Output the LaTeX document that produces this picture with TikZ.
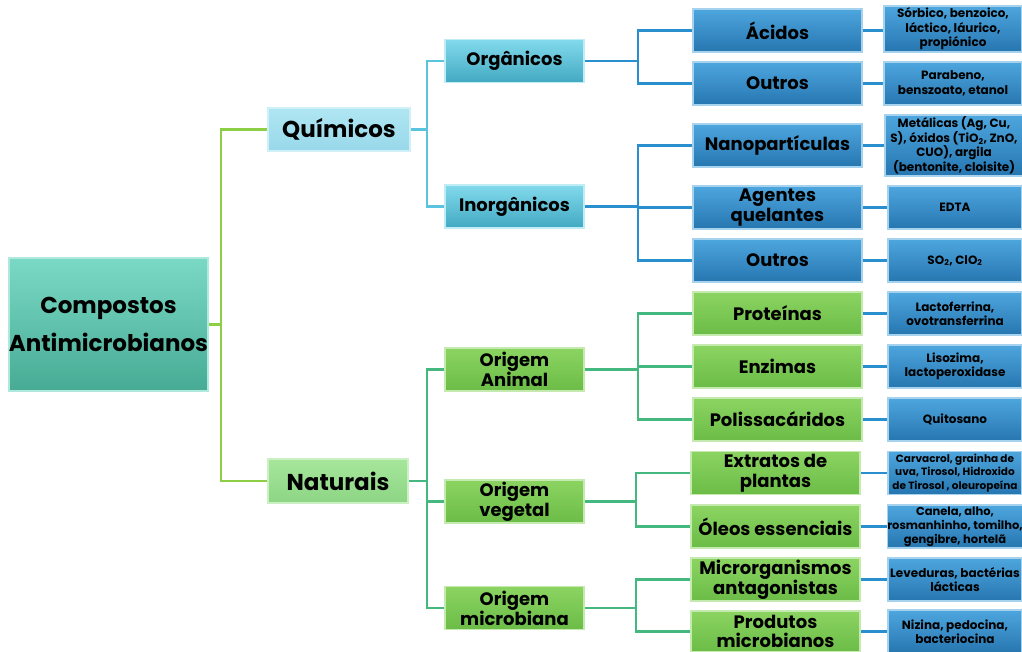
\documentclass[tikz,border=0pt]{standalone}
\usepackage{fontspec}
\setmainfont{Poppins}
\usepackage{tikz}

\definecolor{raizA}{HTML}{7AD9C5}
\definecolor{raizB}{HTML}{47AB94}
\definecolor{quimA}{HTML}{B0E6F2}
\definecolor{quimB}{HTML}{98D8EA}
\definecolor{natA}{HTML}{A6E69C}
\definecolor{natB}{HTML}{8DD584}
\definecolor{azulA}{HTML}{82DAEC}
\definecolor{azulB}{HTML}{42A9C2}
\definecolor{verdeA}{HTML}{8CD462}
\definecolor{verdeB}{HTML}{6BBC47}
\definecolor{escA}{HTML}{4EA6DE}
\definecolor{escB}{HTML}{2676B0}
\definecolor{linhaR}{HTML}{8CCF45}
\definecolor{linhaQ}{HTML}{5AC4DE}
\definecolor{linhaN}{HTML}{45B880}
\definecolor{linhaA}{HTML}{2A8FCF}

\begin{document}
\begin{tikzpicture}[x=1pt, y=-1pt,
    caixa/.style={rectangle, inner sep=0pt, align=center, font=\bfseries, line width=1.2pt},
    raiz/.style={caixa, top color=raizA, bottom color=raizB, draw=raizA!60!white,
        minimum width=197pt, minimum height=133pt, font=\bfseries\fontsize{23}{38}\selectfont},
    quim/.style={caixa, top color=quimA, bottom color=quimB, draw=quimA!60!white,
        minimum width=142pt, minimum height=43pt, font=\bfseries\fontsize{23}{24}\selectfont},
    nat/.style={caixa, top color=natA, bottom color=natB, draw=natA!60!white,
        minimum width=140pt, minimum height=44pt, font=\bfseries\fontsize{23}{24}\selectfont},
    azul/.style={caixa, top color=azulA, bottom color=azulB, draw=azulA!50!white,
        minimum width=139pt, minimum height=43pt, font=\bfseries\fontsize{18}{20}\selectfont},
    verde/.style={caixa, top color=verdeA, bottom color=verdeB, draw=verdeA!50!white,
        minimum width=139pt, minimum height=43pt, font=\bfseries\fontsize{18}{20}\selectfont},
    esc/.style={caixa, top color=escA, bottom color=escB, draw=escA!50!white,
        minimum width=169pt, minimum height=43pt, font=\bfseries\fontsize{18}{20}\selectfont},
    escv/.style={caixa, top color=verdeA, bottom color=verdeB, draw=verdeA!50!white,
        minimum width=169pt, minimum height=43pt, font=\bfseries\fontsize{18}{20}\selectfont},
    ex/.style={caixa, top color=escA, bottom color=escB, draw=escA!50!white,
        minimum width=138pt, minimum height=43pt, font=\bfseries\fontsize{12}{14.5}\selectfont},
    liga/.style={line width=2.5pt}]

        \clip (0,0) rectangle (1022,652);

        % raiz e primeiro nivel
        \node[raiz] (r) at (108.5,324.5) {Compostos\\Antimicrobianos};
        \node[quim] (q) at (339,129.5) {Químicos};
        \node[nat] (n) at (338,481) {Naturais};

        % segundo nivel
        \node[azul] (org) at (514.5,61) {Orgânicos};
        \node[azul] (inorg) at (514.5,206.5) {Inorgânicos};
        \node[verde] (anim) at (514.5,369.5) {Origem\\Animal};
        \node[verde] (veg) at (514.5,501.5) {Origem\\vegetal};
        \node[verde] (mic) at (514.5,608) {Origem\\microbiana};

        % terceiro nivel
        \node[esc] (ac) at (777.5,30.5) {Ácidos};
        \node[esc] (out1) at (777.5,83.5) {Outros};
        \node[esc] (nano) at (777.5,145.5) {Nanopartículas};
        \node[esc] (quel) at (777.5,207.5) {Agentes\\quelantes};
        \node[esc] (out2) at (777.5,260.5) {Outros};
        \node[escv] (prot) at (777.5,313.5) {Proteínas};
        \node[escv] (enz) at (777.5,366.5) {Enzimas};
        \node[escv] (pol) at (777.5,419.5) {Polissacáridos};
        \node[escv] (extr) at (775.5,473) {Extratos de\\plantas};
        \node[escv] (oleo) at (775.5,526.5) {Óleos essenciais};
        \node[escv] (antag) at (775.5,579.5) {Microrganismos\\antagonistas};
        \node[escv, minimum height=41pt, font=\bfseries\fontsize{18}{18.5}\selectfont] (prod) at (775.5,631.5) {Produtos\\microbianos};

        % exemplos
        \node[ex, minimum height=46pt] (e1) at (953,29) {Sórbico, benzoico,\\láctico, láurico,\\propiónico};
        \node[ex] (e2) at (953,83.5) {Parabeno,\\benszoato, etanol};
        \node[ex, minimum height=61pt] (e3) at (954,145.5) {Metálicas (Ag, Cu,\\S), óxidos (TiO\textsubscript{2}, ZnO,\\CUO), argila\\(bentonite, cloisite)};
        \node[ex, minimum width=134pt] (e4) at (955,207.5) {EDTA};
        \node[ex, minimum width=134pt] (e5) at (955,260.5) {SO\textsubscript{2}, ClO\textsubscript{2}};
        \node[ex, minimum width=134pt] (e6) at (955,313.5) {Lactoferrina,\\ovotransferrina};
        \node[ex, minimum width=134pt] (e7) at (955,366.5) {Lisozima,\\lactoperoxidase};
        \node[ex, minimum width=134pt] (e8) at (955,419.5) {Quitosano};
        \node[ex, minimum width=134pt, font=\bfseries\fontsize{10.5}{13.5}\selectfont] (e9) at (955,473) {Carvacrol, grainha de\\uva,  Tirosol, Hidroxido\\de Tirosol , oleuropeína};
        \node[ex, minimum width=134pt, font=\bfseries\fontsize{11.5}{14}\selectfont] (e10) at (955,526.5) {Canela, alho,\\rosmanhinho, tomilho,\\gengibre, hortelã};
        \node[ex, minimum width=134pt] (e11) at (955,579.5) {Leveduras, bactérias\\lácticas};
        \node[ex, minimum width=134pt] (e12) at (955,631.5) {Nizina, pedocina,\\bacteriocina};

        % juncoes
        \coordinate (j0) at (221,324.5);
        \coordinate (j1) at (427,129.5);
        \coordinate (j2) at (427,481);
        \coordinate (j3) at (638,61);
        \coordinate (j4) at (638,206.5);
        \coordinate (j5) at (638,369.5);
        \coordinate (j6) at (636,501.5);
        \coordinate (j7) at (636,608);

        \draw[liga, linhaR] (r.east)--(j0) |- (q.west);
        \draw[liga, linhaR] (j0) |- (n.west);
        \draw[liga, linhaQ] (q.east)--(j1) |- (org.west);
        \draw[liga, linhaQ] (j1) |- (inorg.west);
        \draw[liga, linhaN] (n.east)--(j2) |- (anim.west);
        \draw[liga, linhaN] (j2) |- (veg.west);
        \draw[liga, linhaN] (j2) |- (mic.west);
        \draw[liga, linhaA] (org.east)--(j3) |- (ac.west);
        \draw[liga, linhaA] (j3) |- (out1.west);
        \draw[liga, linhaA] (inorg.east)--(j4) |- (nano.west);
        \draw[liga, linhaA] (j4) |- (quel.west);
        \draw[liga, linhaA] (j4) |- (out2.west);
        \draw[liga, linhaN] (anim.east)--(j5) |- (prot.west);
        \draw[liga, linhaN] (j5) |- (enz.west);
        \draw[liga, linhaN] (j5) |- (pol.west);
        \draw[liga, linhaN] (veg.east)--(j6) |- (extr.west);
        \draw[liga, linhaN] (j6) |- (oleo.west);
        \draw[liga, linhaN] (mic.east)--(j7) |- (antag.west);
        \draw[liga, linhaN] (j7) |- (prod.west);

        % ramos ate aos exemplos
        \foreach \a/\b in {ac/e1, out1/e2, nano/e3, quel/e4, out2/e5, prot/e6, enz/e7, pol/e8, extr/e9, oleo/e10, antag/e11, prod/e12}
            \draw[liga, linhaA] (\a.east) -- (\b.west |- \a.east);

\end{tikzpicture}
\end{document}
